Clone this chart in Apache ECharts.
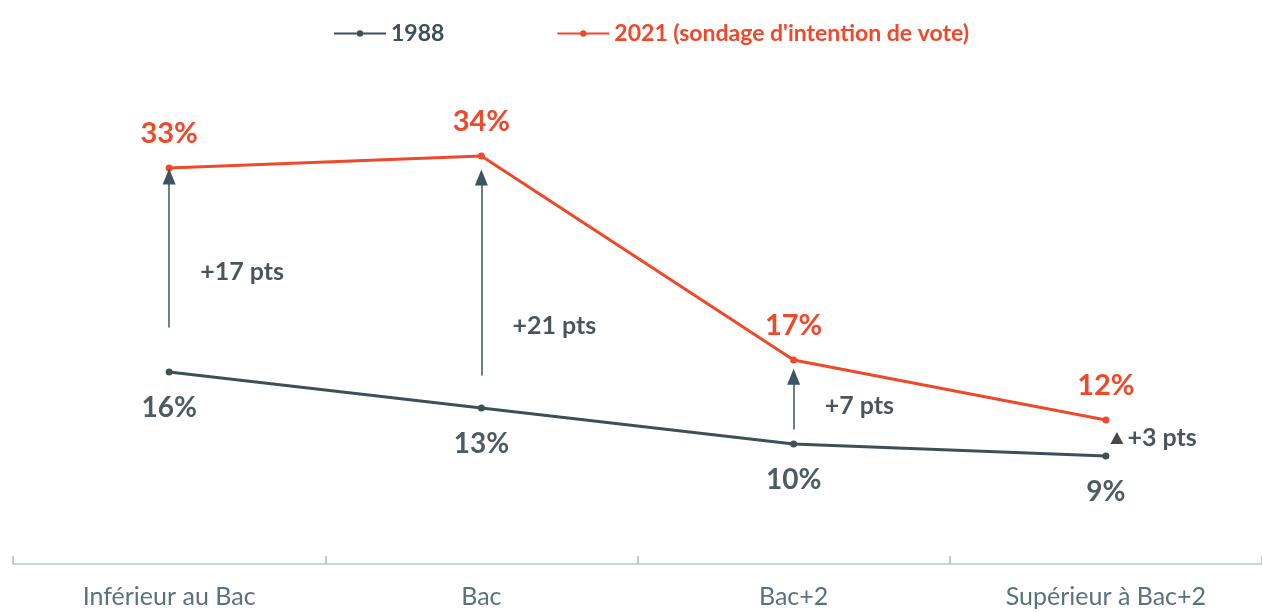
<!DOCTYPE html>
<html>
<head>
<meta charset="utf-8">
<script src="https://cdn.jsdelivr.net/npm/echarts@6/dist/echarts.min.js"></script>
<style>
  html, body { margin: 0; padding: 0; background: #fff; }
  #chart { width: 1262px; height: 612px; }
</style>
</head>
<body>
<div id="chart"></div>
<script>
// categories and values
var categories = ['Inférieur au Bac', 'Bac', 'Bac+2', 'Supérieur à Bac+2']
var vote1988 = [16, 13, 10, 9]
var vote2021 = [33, 34, 17, 12]
// arrows between the two lines (start / tip, in %)
var arrowStart = [19.7, 15.7, 11.2]
var arrowEnd = [32.3, 32.2, 15.6]
// "+x pts" labels
var gainText = ['+17 pts', '+21 pts', '+7 pts', '+3 pts']
var gainLabelY = [24.3, 19.8, 13.2, 10.5]

var RED = '#f0482a'
var GREY = '#3d5058'
var FONT = 'Lato, "Open Sans", sans-serif'

var chart = echarts.init(document.getElementById('chart'))

var arrows = arrowStart.map(function (s, i) {
  return [{ coord: [i, s] }, { coord: [i, arrowEnd[i]] }]
})

var gains = gainText.map(function (t, i) {
  var item = { value: [i, gainLabelY[i]] }
  if (i == 3) {
    item.symbol = 'triangle'
    item.symbolSize = [13, 12]
    item.symbolOffset = [11, 0]
    item.label = { distance: 4 }
  }
  return item
})

var option = {
  animation: false,
  textStyle: { fontFamily: FONT },
  grid: { left: 13, width: 1256, top: 84, bottom: 48 },
  legend: {
    top: 17,
    left: 328,
    itemWidth: 52,
    itemHeight: 8,
    itemGap: 112,
    textStyle: { fontSize: 23, fontWeight: 'bold', fontFamily: FONT },
    data: [
      { name: '1988', textStyle: { color: GREY } },
      { name: '2021 (sondage d\'intention de vote)', textStyle: { color: RED } }
    ]
  },
  xAxis: {
    type: 'category',
    data: categories,
    axisLine: { lineStyle: { color: '#b7c7cd', width: 1.5 } },
    axisTick: { show: true, inside: true, length: 8, lineStyle: { color: '#a9bcc4', width: 1.5 } },
    axisLabel: { color: '#5a727c', fontSize: 25, margin: 20, fontFamily: FONT }
  },
  yAxis: {
    type: 'value',
    min: 0,
    max: 40,
    show: false
  },
  series: [
    {
      name: '1988',
      type: 'line',
      data: vote1988,
      symbol: 'circle',
      symbolSize: 7,
      itemStyle: { color: GREY },
      lineStyle: { color: GREY, width: 3 },
      label: {
        show: true,
        position: 'bottom',
        distance: 18,
        formatter: '{c}%',
        color: '#4d5c62',
        fontSize: 28,
        fontWeight: 'bold',
        fontFamily: FONT
      }
    },
    {
      name: '2021 (sondage d\'intention de vote)',
      type: 'line',
      data: vote2021,
      symbol: 'circle',
      symbolSize: 7,
      itemStyle: { color: RED },
      lineStyle: { color: RED, width: 3 },
      label: {
        show: true,
        position: 'top',
        distance: 16,
        formatter: '{c}%',
        color: RED,
        fontSize: 29,
        fontWeight: 'bold',
        fontFamily: FONT
      },
      markLine: {
        silent: true,
        symbol: ['none', 'triangle'],
        symbolSize: [13, 16],
        label: { show: false },
        lineStyle: { color: '#3b5560', width: 1.5, type: 'solid' },
        itemStyle: { color: '#1a1a1a' },
        data: arrows
      }
    },
    {
      name: 'gains',
      type: 'scatter',
      data: gains,
      symbolSize: 0,
      itemStyle: { color: '#1a1a1a' },
      label: {
        show: true,
        position: 'right',
        distance: 31,
        formatter: function (p) { return gainText[p.dataIndex] },
        color: '#1e2a30',
        fontSize: 25,
        fontWeight: 'bold',
        fontFamily: FONT
      }
    }
  ]
}

chart.setOption(option)
</script>
</body>
</html>
